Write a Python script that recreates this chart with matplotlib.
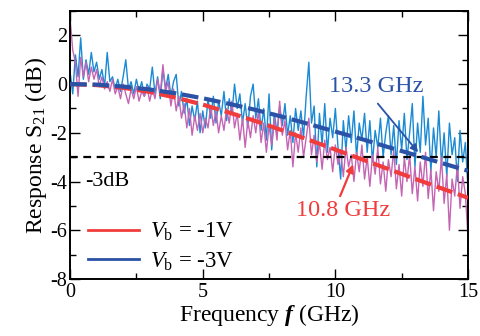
import numpy as np
import matplotlib
matplotlib.use("Agg")
import matplotlib.pyplot as plt
from matplotlib.ticker import MultipleLocator

plt.rcParams['font.family'] = ['Liberation Serif', 'DejaVu Serif']
plt.rcParams['mathtext.fontset'] = 'custom'
plt.rcParams['mathtext.rm'] = 'Liberation Serif'
plt.rcParams['mathtext.it'] = 'Liberation Serif:italic'
plt.rcParams['mathtext.bf'] = 'Liberation Serif:bold'
plt.rcParams['mathtext.bfit'] = 'Liberation Serif:italic:bold'
plt.rcParams['axes.unicode_minus'] = False

# ---- data ----
freq = [round(0.1 * i, 1) for i in range(151)]

s21_3v = [0.5, -0.4, 1.2, 0.3, 1.9, 0.2, 1.0, 0.4, 1.3, 0.5,
          0.9, 0.2, 0.6, -0.1, 1.3, 0.1, 0.3, -0.2, 0.2, -0.3,
          0.3, 1.0, -0.2, 0.1, -0.4, 0.2, -0.3, 0.1, -0.5, 0.0,
          -0.2, 0.7, -0.4, 0.3, -0.6, 0.6, -0.2, 0.4, -0.5, 0.1,
          0.4, -0.9, -0.3, -1.2, -0.6, -1.7, -0.9, -1.5, -0.7, -2.0,
          -1.1, -1.8, -0.6, -1.4, -0.5, -1.6, -0.7, -1.3, -0.3, -1.5,
          -0.6, -1.2, 0.0, -1.0, -0.4, -1.6, -0.8, -1.8, -0.5, 0.0,
          -1.4, -0.6, -1.9, -1.0, -2.3, -0.4, -2.7, -1.2, -2.0, -0.9,
          -1.7, -0.8, -2.1, -1.3, -2.4, -1.0, -1.9, -1.1, -2.2, -0.5,
          0.9, -1.6, -0.9, -3.4, -1.2, -2.5, -0.8, -2.8, -1.4, -2.2,
          -1.0, -2.6, -3.9, -1.5, -2.7, -1.3, -2.4, -1.1, -3.0, -1.6,
          -2.3, -1.2, -2.8, -1.5, -3.2, -1.9, -2.6, -1.4, -3.0, -2.0,
          -1.3, -2.9, -1.7, -3.3, -1.5, -2.7, -1.2, -3.1, -2.0, -0.8,
          -3.4, -1.6, -2.8, -0.5, -2.5, -1.4, -3.6, -1.8, -3.0, -1.1,
          -3.3, -2.0, -3.8, -1.6, -2.9, -2.2, -4.0, -1.9, -3.2, -2.4,
          -4.3]

s21_1v = [2.7, 1.4, 0.9, -0.5, 1.1, 0.3, 0.9, 0.1, 0.7, 0.2,
          0.6, -0.1, 0.3, -0.2, 0.1, -0.3, 0.2, -0.4, -0.1, -0.6,
          0.0, -0.4, -0.8, -0.2, -0.6, -0.1, -0.7, -0.3, -0.5, -0.1,
          -0.7, -0.2, -0.6, 0.2, -0.4, 0.8, -0.3, 0.1, -0.9, -0.2,
          -1.1, -0.5, -1.4, -0.8, -1.8, -1.0, -2.1, -1.3, -1.9, -1.2,
          -2.0, -1.4, -1.8, -0.9, -1.7, -1.1, -2.0, -1.3, -1.9, -1.0,
          -1.6, -0.7, -1.8, -1.2, -2.3, -1.4, -2.6, -1.5, -2.2, -1.3,
          -2.0, -1.1, -2.4, -1.6, -2.8, -1.7, -2.5, -1.4, -2.3, -0.7,
          -2.1, -1.5, -2.7, -1.9, -3.4, -2.0, -2.8, -1.8, -3.0, -2.2,
          -1.4, -2.9, -2.1, -3.2, -2.4, -3.5, -2.3, -3.1, -2.6, -3.6,
          -2.5, -3.3, -2.7, -3.8, -2.6, -3.4, -2.9, -4.0, -2.8, -3.6,
          -2.5, -3.9, -3.0, -4.2, -2.9, -3.7, -2.6, -4.1, -3.2, -4.4,
          -3.1, -3.8, -2.7, -4.3, -3.3, -4.6, -3.0, -4.0, -2.9, -4.5,
          -3.4, -4.8, -3.2, -4.2, -2.8, -4.7, -3.5, -5.2, -3.6, -4.4,
          -3.0, -4.9, -3.7, -6.0, -3.9, -4.6, -3.3, -5.1, -3.8, -4.5,
          -6.3]

fit_f = list(range(16))
fit_1v = [0.0, -0.04, -0.15, -0.32, -0.56, -0.84, -1.17, -1.52, -1.90, -2.29,
          -2.69, -3.09, -3.49, -3.89, -4.28, -4.67]
fit_3v = [0.0, -0.02, -0.10, -0.22, -0.38, -0.58, -0.81, -1.06, -1.34, -1.64,
          -1.95, -2.26, -2.59, -2.91, -3.24, -3.56]

legend_labels = [r'$V_{\rm b}$ = -1V', r'$V_{\rm b}$ = -3V']

# ---- figure ----
fig = plt.figure(figsize=(4.8, 3.36), dpi=100)
ax = fig.add_axes([0.146, 0.170, 0.829, 0.797])

c_noise3 = '#1a8ad4'
c_noise1 = '#c465b4'
c_red = '#f03c3c'
c_blue = '#2a52a6'

ax.plot(freq, s21_3v, color=c_noise3, lw=1.0, zorder=2)
ax.plot(freq, s21_1v, color=c_noise1, lw=1.0, zorder=2.5)
ax.plot([0, 15], [-3, -3], color='black', lw=1.6, dashes=(3.5, 2.5), zorder=3)
ax.plot(fit_f, fit_1v, color=c_red, lw=3.0, dashes=(4, 1.4), zorder=4)
ax.plot(fit_f, fit_3v, color=c_blue, lw=3.0, dashes=(4, 1.4), zorder=4.5)

# legend (solid lines)
h1, = ax.plot([], [], color=c_red, lw=2)
h2, = ax.plot([], [], color=c_blue, lw=2)
leg = ax.legend([h1, h2], legend_labels, loc='lower left',
                bbox_to_anchor=(0.005, -0.037), frameon=False, fontsize=16.5,
                handlelength=2.2, handletextpad=0.5, labelspacing=0.33,
                borderaxespad=0.3)

ax.set_xlim(0, 15)
ax.set_ylim(-8, 3)
ax.xaxis.set_major_locator(MultipleLocator(5))
ax.xaxis.set_minor_locator(MultipleLocator(2.5))
ax.yaxis.set_major_locator(MultipleLocator(2))
ax.yaxis.set_minor_locator(MultipleLocator(1))
ax.tick_params(which='both', direction='in', top=True, right=True,
               labelsize=14.5, width=1.0)
ax.tick_params(which='major', length=7)
ax.tick_params(axis='y', pad=2)
ax.tick_params(axis='x', pad=3)
ax.tick_params(which='minor', length=4)
for s in ax.spines.values():
    s.set_linewidth(1.4)

ax.set_xlabel(r'Frequency $\mathbfit{f}$ (GHz)', fontsize=17, labelpad=0)
ax.set_ylabel(r'Response S$_{21}$ (dB)', fontsize=17, labelpad=1)

ax.text(1.4, -4.0, '-3dB', fontsize=16, ha='center', va='center')
ax.text(11.55, -0.1, '13.3 GHz', fontsize=17.5, color=c_blue,
        ha='center', va='center')
ax.annotate('', xy=(13.12, -2.8), xytext=(11.6, -0.8),
            arrowprops=dict(arrowstyle='-|>', color=c_blue, lw=1.3,
                            shrinkA=0, shrinkB=0, mutation_scale=11))
ax.text(10.3, -5.2, '10.8 GHz', fontsize=17.5, color=c_red,
        ha='center', va='center')
ax.annotate('', xy=(10.67, -3.3), xytext=(10.18, -4.6),
            arrowprops=dict(arrowstyle='-|>', color=c_red, lw=1.6,
                            shrinkA=0, shrinkB=0, mutation_scale=11))

fig.savefig('out.png', dpi=100)
